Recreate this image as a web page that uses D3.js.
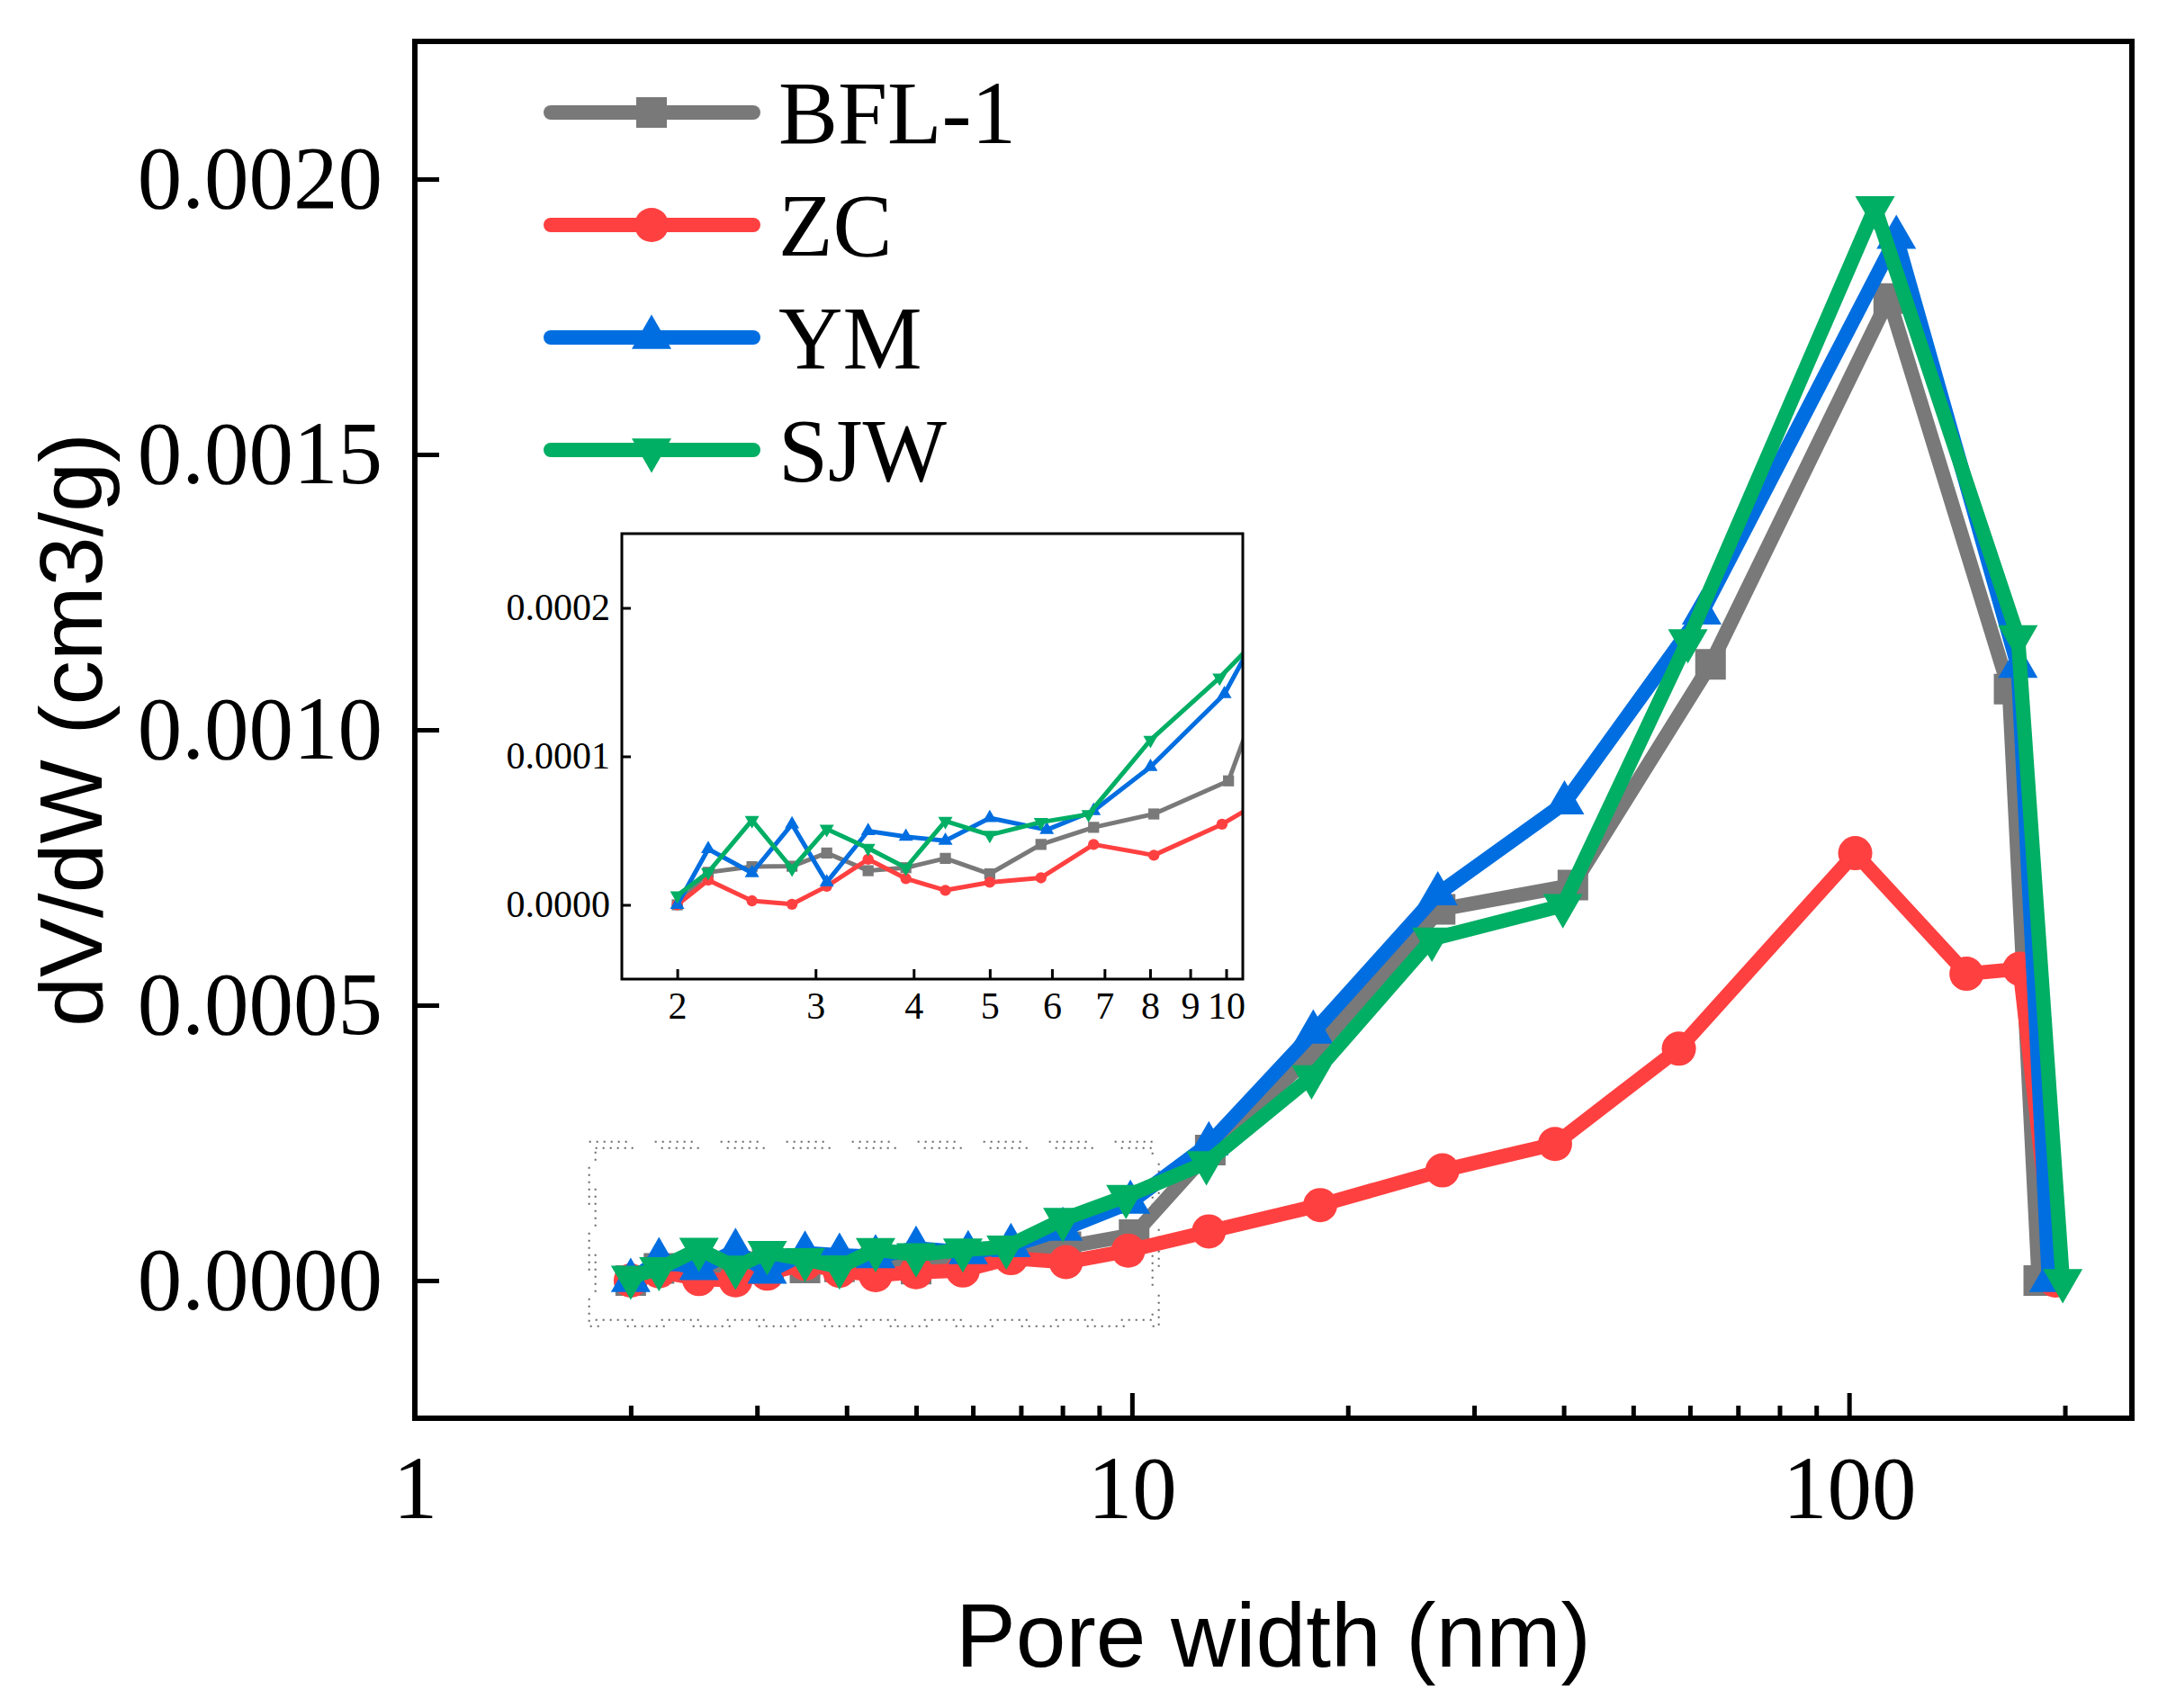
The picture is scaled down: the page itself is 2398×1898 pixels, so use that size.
<!DOCTYPE html>
<html>
<head>
<meta charset="utf-8">
<script src="https://cdn.jsdelivr.net/npm/d3@7"></script>
<style>
    body { margin: 0; background: #fff; }
    text { font-family: "Liberation Serif", "Times New Roman", serif; fill: #000; }
    .sans { font-family: "Liberation Sans", Arial, sans-serif; }
</style>
</head>
<body>
<div id="chart-area"></div>
<script>

// pore width (nm) / dV/dW (cm3/g)
const bflWidth = [2.00, 2.19, 2.49, 2.80, 3.10, 3.50, 3.91, 4.39, 5.00, 5.81, 6.78, 8.09, 10.07, 12.86, 17.83, 26.9, 41.2, 64.1, 113.6, 167.2, 183.9];
const bflValue = [0, 0.0000219, 0.0000257, 0.000026, 0.0000349, 0.000023, 0.000025, 0.0000313, 0.0000209, 0.0000407, 0.0000522, 0.0000612, 0.0000835, 0.000237, 0.00041, 0.000674, 0.000718, 0.001119, 0.001783, 0.001074, 0];

const zcWidth = [2.00, 2.19, 2.49, 2.80, 3.10, 3.50, 3.91, 4.39, 5.00, 5.81, 6.78, 8.09, 9.88, 12.8, 18.3, 27.1, 38.9, 57.9, 102, 145.8, 173, 194];
const zcValue = [0, 0.0000167, 0.0000027, 0.0000004, 0.0000125, 0.0000307, 0.0000177, 0.0000098, 0.0000152, 0.0000182, 0.0000407, 0.0000334, 0.0000543, 0.0000892, 0.000137, 0.0002, 0.000248, 0.000421, 0.000776, 0.000557, 0.000566, 0];

const ymWidth = [2.00, 2.19, 2.49, 2.80, 3.10, 3.50, 3.91, 4.39, 5.00, 5.91, 6.78, 8.01, 9.95, 12.8, 17.9, 26.7, 40.1, 62.3, 116.4, 172, 190];
const ymValue = [0, 0.0000376, 0.0000215, 0.0000543, 0.0000152, 0.0000497, 0.0000459, 0.0000432, 0.0000585, 0.0000505, 0.0000633, 0.0000929, 0.000142, 0.000248, 0.000451, 0.000702, 0.000867, 0.001212, 0.001894, 0.001115, 0];

const sjwWidth = [2.00, 2.19, 2.49, 2.80, 3.10, 3.50, 3.91, 4.39, 5.00, 5.81, 6.68, 8.01, 9.81, 12.7, 17.8, 26.2, 39.9, 59.6, 108.7, 172, 198.6];
const sjwValue = [0.0000063, 0.0000219, 0.000057, 0.0000244, 0.0000511, 0.0000382, 0.000025, 0.0000564, 0.000047, 0.0000557, 0.000061, 0.000111, 0.000153, 0.000214, 0.00037, 0.00062, 0.000681, 0.001162, 0.001948, 0.001169, 0];

const seriesNames = ["BFL-1", "ZC", "YM", "SJW"];
const seriesColors = ["#797979", "#ff4040", "#006ee0", "#00ae64"];

// axis ticks
const mainYTicks = [0, 0.0005, 0.0010, 0.0015, 0.0020];
const mainXTicks = [1, 10, 100];
const mainXMinor = [2, 3, 4, 5, 6, 7, 8, 9, 20, 30, 40, 50, 60, 70, 80, 90, 200];
const insetYTicks = [0, 0.0001, 0.0002];
const insetXTicks = [2, 3, 4, 5, 6, 7, 8, 9, 10];

// dotted box that marks the zoomed region on the main plot
const zoomBoxX = [1.75, 10.9];
const zoomBoxY = [-0.000083, 0.000252];


class PoreChart {

    constructor(parentElement, series) {
        this.parentElement = parentElement;
        this.series = series;

        this.initVis();
    }

    initVis() {
        let vis = this;

        vis.width = 2398;
        vis.height = 1898;
        vis.box = {left: 461, right: 2369, top: 46, bottom: 1576};

        vis.svg = d3.select("#" + vis.parentElement).append("svg")
            .attr("width", vis.width)
            .attr("height", vis.height);

        vis.svg.append("rect")
            .attr("width", vis.width)
            .attr("height", vis.height)
            .attr("fill", "#fff");

        // scales
        vis.xScale = d3.scaleLog()
            .domain([1, 248])
            .range([vis.box.left, vis.box.right]);

        vis.yScale = d3.scaleLinear()
            .domain([-0.00025, 0.00225])
            .range([vis.box.bottom, vis.box.top]);

        vis.symbols = [
            d3.symbol().type(d3.symbolSquare),
            d3.symbol().type(d3.symbolCircle),
            d3.symbol().type(d3.symbolTriangle),
            d3.symbol().type(d3.symbolTriangle)
        ];
        vis.rotations = [0, 0, 0, 180];

        vis.updateVis();
    }

    updateVis() {
        let vis = this;

        // dotted zoom box
        let bx0 = vis.xScale(zoomBoxX[0]), bx1 = vis.xScale(zoomBoxX[1]);
        let by0 = vis.yScale(zoomBoxY[1]), by1 = vis.yScale(zoomBoxY[0]);
        [0, 7].forEach(off => {
            vis.svg.append("rect")
                .attr("x", bx0 + off)
                .attr("y", by0 + off)
                .attr("width", bx1 - bx0 - 2 * off)
                .attr("height", by1 - by0 - 2 * off)
                .attr("fill", "none")
                .attr("stroke", "#666")
                .attr("stroke-width", 2)
                .attr("stroke-dasharray", "2,6,2,6,2,6,2,6,2,6,2,31");
        });

        // axes
        let xAxis = d3.axisBottom(vis.xScale)
            .tickValues(mainXTicks)
            .tickFormat(d3.format("d"))
            .tickSize(-28)
            .tickPadding(41);

        let xMinor = d3.axisBottom(vis.xScale)
            .tickValues(mainXMinor)
            .tickFormat("")
            .tickSize(-14);

        let yAxis = d3.axisLeft(vis.yScale)
            .tickValues(mainYTicks)
            .tickFormat(d3.format(".4f"))
            .tickSize(-27)
            .tickPadding(36);

        let gx = vis.svg.append("g")
            .attr("transform", `translate(0,${vis.box.bottom})`)
            .call(xAxis);
        let gxm = vis.svg.append("g")
            .attr("transform", `translate(0,${vis.box.bottom})`)
            .call(xMinor);
        let gy = vis.svg.append("g")
            .attr("transform", `translate(${vis.box.left},0)`)
            .call(yAxis);

        [gx, gxm, gy].forEach(g => {
            g.select(".domain").remove();
            g.selectAll(".tick line").attr("stroke", "#000").attr("stroke-width", 5);
            g.selectAll(".tick text")
                .attr("font-family", "Liberation Serif")
                .attr("font-size", 99);
        });

        vis.svg.append("rect")
            .attr("x", vis.box.left)
            .attr("y", vis.box.top)
            .attr("width", vis.box.right - vis.box.left)
            .attr("height", vis.box.bottom - vis.box.top)
            .attr("fill", "none")
            .attr("stroke", "#000")
            .attr("stroke-width", 6);

        // axis titles
        vis.svg.append("text")
            .attr("class", "sans")
            .attr("x", (vis.box.left + vis.box.right) / 2)
            .attr("y", 1852)
            .attr("text-anchor", "middle")
            .attr("font-size", 100)
            .text("Pore width (nm)");

        vis.svg.append("text")
            .attr("class", "sans")
            .attr("transform", `translate(113,${(vis.box.top + vis.box.bottom) / 2}) rotate(-90)`)
            .attr("text-anchor", "middle")
            .attr("font-size", 99)
            .text("dV/dW (cm3/g)");

        // data
        let line = d3.line()
            .x(d => vis.xScale(d.x))
            .y(d => vis.yScale(d.y));

        let markerSize = [1156, 1134, 840, 840];

        vis.series.forEach((s, i) => {
            vis.svg.append("path")
                .datum(s.points)
                .attr("d", line)
                .attr("fill", "none")
                .attr("stroke", s.color)
                .attr("stroke-width", 16)
                .attr("stroke-linejoin", "round");

            vis.svg.append("g").selectAll("path")
                .data(s.points)
                .join("path")
                .attr("d", vis.symbols[i].size(markerSize[i]))
                .attr("transform", d => `translate(${vis.xScale(d.x)},${vis.yScale(d.y)}) rotate(${vis.rotations[i]})`)
                .attr("fill", s.color);
        });

        // legend
        let legend = vis.svg.append("g");
        vis.series.forEach((s, i) => {
            let ly = 125 + i * 125;
            legend.append("line")
                .attr("x1", 612).attr("x2", 837)
                .attr("y1", ly).attr("y2", ly)
                .attr("stroke", s.color)
                .attr("stroke-width", 16)
                .attr("stroke-linecap", "round");
            legend.append("path")
                .attr("d", vis.symbols[i].size(markerSize[i]))
                .attr("transform", `translate(724,${ly}) rotate(${vis.rotations[i]})`)
                .attr("fill", s.color);
            legend.append("text")
                .attr("x", 865)
                .attr("y", ly + 34)
                .attr("font-size", 99)
                .text(s.name);
        });

        vis.drawInset();
    }

    drawInset() {
        let vis = this;

        let box = {left: 691, right: 1381, top: 593, bottom: 1088};

        let xIn = d3.scaleLog()
            .domain([1.70, 10.5])
            .range([box.left, box.right]);
        let yIn = d3.scaleLinear()
            .domain([-0.00005, 0.00025])
            .range([box.bottom, box.top]);

        let inset = vis.svg.append("g");

        inset.append("rect")
            .attr("x", box.left).attr("y", box.top)
            .attr("width", box.right - box.left)
            .attr("height", box.bottom - box.top)
            .attr("fill", "#fff");

        inset.append("clipPath")
            .attr("id", "inset-clip")
            .append("rect")
            .attr("x", box.left).attr("y", box.top)
            .attr("width", box.right - box.left)
            .attr("height", box.bottom - box.top);

        let line = d3.line()
            .x(d => xIn(d.x))
            .y(d => yIn(d.y));

        let markerSize = [150, 120, 110, 110];
        let plot = inset.append("g").attr("clip-path", "url(#inset-clip)");

        vis.series.forEach((s, i) => {
            plot.append("path")
                .datum(s.points)
                .attr("d", line)
                .attr("fill", "none")
                .attr("stroke", s.color)
                .attr("stroke-width", 5)
                .attr("stroke-linejoin", "round");

            plot.append("g").selectAll("path")
                .data(s.points)
                .join("path")
                .attr("d", vis.symbols[i].size(markerSize[i]))
                .attr("transform", d => `translate(${xIn(d.x)},${yIn(d.y)}) rotate(${vis.rotations[i]})`)
                .attr("fill", s.color);
        });

        let gx = inset.append("g")
            .attr("transform", `translate(0,${box.bottom})`)
            .call(d3.axisBottom(xIn)
                .tickValues(insetXTicks)
                .tickFormat(d3.format("d"))
                .tickSize(-11)
                .tickPadding(14));

        let gy = inset.append("g")
            .attr("transform", `translate(${box.left},0)`)
            .call(d3.axisLeft(yIn)
                .tickValues(insetYTicks)
                .tickFormat(d3.format(".4f"))
                .tickSize(-10)
                .tickPadding(13));

        [gx, gy].forEach(g => {
            g.select(".domain").remove();
            g.selectAll(".tick line").attr("stroke", "#000").attr("stroke-width", 3);
            g.selectAll(".tick text")
                .attr("font-family", "Liberation Serif")
                .attr("font-size", 42);
        });

        inset.append("rect")
            .attr("x", box.left).attr("y", box.top)
            .attr("width", box.right - box.left)
            .attr("height", box.bottom - box.top)
            .attr("fill", "none")
            .attr("stroke", "#000")
            .attr("stroke-width", 3);
    }
}


// build series from the arrays above
let widths = [bflWidth, zcWidth, ymWidth, sjwWidth];
let values = [bflValue, zcValue, ymValue, sjwValue];
let series = seriesNames.map((name, i) => ({
    name: name,
    color: seriesColors[i],
    points: widths[i].map((w, j) => ({x: w, y: values[i][j]}))
}));

let poreChart = new PoreChart("chart-area", series);

</script>
</body>
</html>
